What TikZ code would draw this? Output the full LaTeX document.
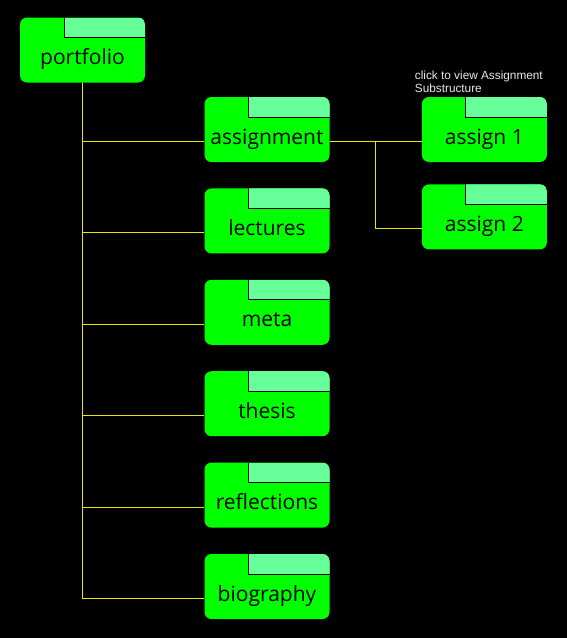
\documentclass[tikz,border=0pt]{standalone}
\usepackage{fontspec}
\setmainfont{Open Sans}
\newfontfamily\notefont{Liberation Sans}
\usetikzlibrary{positioning, calc}
\definecolor{cgreen}{HTML}{00FF00}
\definecolor{ctab}{HTML}{66FF99}
\definecolor{cwire}{HTML}{E6E600}
\definecolor{cnote}{HTML}{E8E8E8}
\tikzset{
  folder/.style={fill=cgreen, rounded corners=7pt, minimum width=125pt, inner sep=0pt,
    text height=47pt, text depth=18pt, text=black, font=\fontsize{21}{24}\selectfont,
    path picture={
      \fill[ctab, sharp corners] ($(path picture bounding box.north east)+(-81pt,0pt)$) rectangle ($(path picture bounding box.north east)+(0pt,-20pt)$);
      \draw[black, line width=1pt, sharp corners] ($(path picture bounding box.north east)+(-81pt,0pt)$) |- ($(path picture bounding box.north east)+(0pt,-20pt)$);
    }},
  wire/.style={draw=cwire, line width=1pt},
  note/.style={text=cnote, align=left, inner sep=0pt, font=\notefont\fontsize{11.8}{12.8}\selectfont},
}

\begin{document}
\begin{tikzpicture}[x=1pt, y=-1pt]
  \fill[black] (0,0) rectangle (567,638);
  \useasboundingbox (0,0) rectangle (567,638);
  % folders
  \node[folder] (portfolio) at (82.5,50) {portfolio};
  \node[folder] (assignment) at (267,129.5) {assignment};
  \node[folder, below=26pt of assignment] (lectures) {lectures};
  \node[folder, below=26pt of lectures] (meta) {meta};
  \node[folder, below=26pt of meta] (thesis) {thesis};
  \node[folder, below=26pt of thesis] (reflections) {reflections};
  \node[folder, below=26pt of reflections] (biography) {biography};
  \node[folder, right=92pt of assignment] (assign1) {assign 1};
  \node[folder, below=22pt of assign1] (assign2) {assign 2};
  \node[note, anchor=south west] (hint) at ([xshift=-7pt, yshift=4pt]assign1.north west) {click to view Assignment\\Substructure};
  % tree lines
  \foreach \n in {assignment, lectures, meta, thesis, reflections, biography}
    \draw[wire] (portfolio.south) |- ([yshift=-12pt]\n.west);
  \draw[wire] ([yshift=-12pt]assignment.east) -- ([yshift=-12pt]assign1.west);
  \coordinate (fork) at ($([yshift=-12pt]assignment.east)!0.5!([yshift=-12pt]assign1.west)$);
  \draw[wire] (fork) |- ([yshift=-12pt]assign2.west);
\end{tikzpicture}
\end{document}
